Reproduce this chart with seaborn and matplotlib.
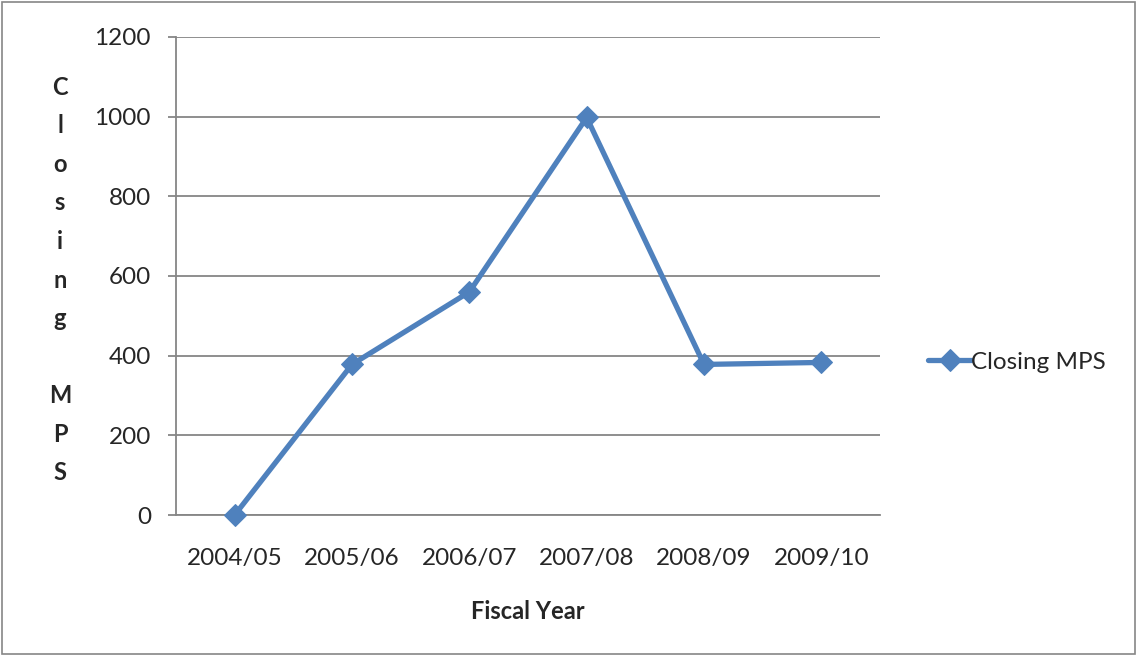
import matplotlib
matplotlib.use('Agg')
import matplotlib.pyplot as plt
import seaborn as sns
import pandas as pd
from matplotlib.patches import Rectangle

# Valores
years = ['2004/05', '2005/06', '2006/07', '2007/08', '2008/09', '2009/10']
closing_mps = [0, 378, 560, 998, 378, 383]

df = pd.DataFrame({'Fiscal Year': years, 'Closing MPS': closing_mps})

sns.set_style('white')
plt.rcParams['font.family'] = ['Lato', 'DejaVu Sans']

blue = '#4F81BD'
grey = '#868686'

fig = plt.figure(figsize=(11.38, 6.56), dpi=100)
ax = fig.add_axes([176 / 1138, 1 - 515 / 656, (880 - 176) / 1138, (515 - 37) / 656])

sns.lineplot(data=df, x='Fiscal Year', y='Closing MPS', ax=ax, color=blue,
             linewidth=3.8, marker='D', markersize=11, markeredgecolor=blue,
             label='Closing MPS', sort=False, clip_on=False, zorder=5)

# Eixos no estilo Excel
ax.set_ylim(0, 1200)
ax.set_yticks(range(0, 1201, 200))
ax.set_xlim(-0.5, len(years) - 0.5)
ax.set_xticks(range(len(years)))
ax.set_xticklabels(years)
ax.set_xticks([i - 0.5 for i in range(len(years) + 1)], minor=True)
ax.tick_params(axis='x', which='major', length=0, pad=24, labelsize=17.5)
ax.tick_params(axis='x', which='minor', length=7, color=grey, width=1.3, direction='out')
ax.tick_params(axis='y', length=6, color=grey, width=1.3, direction='out', pad=12, labelsize=17.5, left=True)
ax.grid(axis='y', color=grey, linewidth=1.3)
ax.set_axisbelow(True)
for side in ['top', 'right']:
    ax.spines[side].set_visible(False)
for side in ['left', 'bottom']:
    ax.spines[side].set_color(grey)
    ax.spines[side].set_linewidth(1.3)

ax.set_xlabel('Fiscal Year', fontsize=17, fontweight='bold', labelpad=22)
ax.set_ylabel('')
fig.text(60 / 1138, 1 - 280 / 656, 'C\nl\no\ns\ni\nn\ng\n\nM\nP\nS', ha='center', va='center',
         fontsize=17, fontweight='bold', linespacing=1.82)

leg = ax.legend(loc='center left', bbox_to_anchor=(1.055, 1 - (362 - 37) / 478), frameon=False,
                fontsize=17.5, handlelength=1.75, handletextpad=0.0, borderaxespad=0)

# Moldura externa
fig.patches.append(Rectangle((0.002, 0.003), 0.995, 0.994, transform=fig.transFigure,
                             fill=False, edgecolor=grey, linewidth=1.2))

plt.savefig('out.png', dpi=100)
